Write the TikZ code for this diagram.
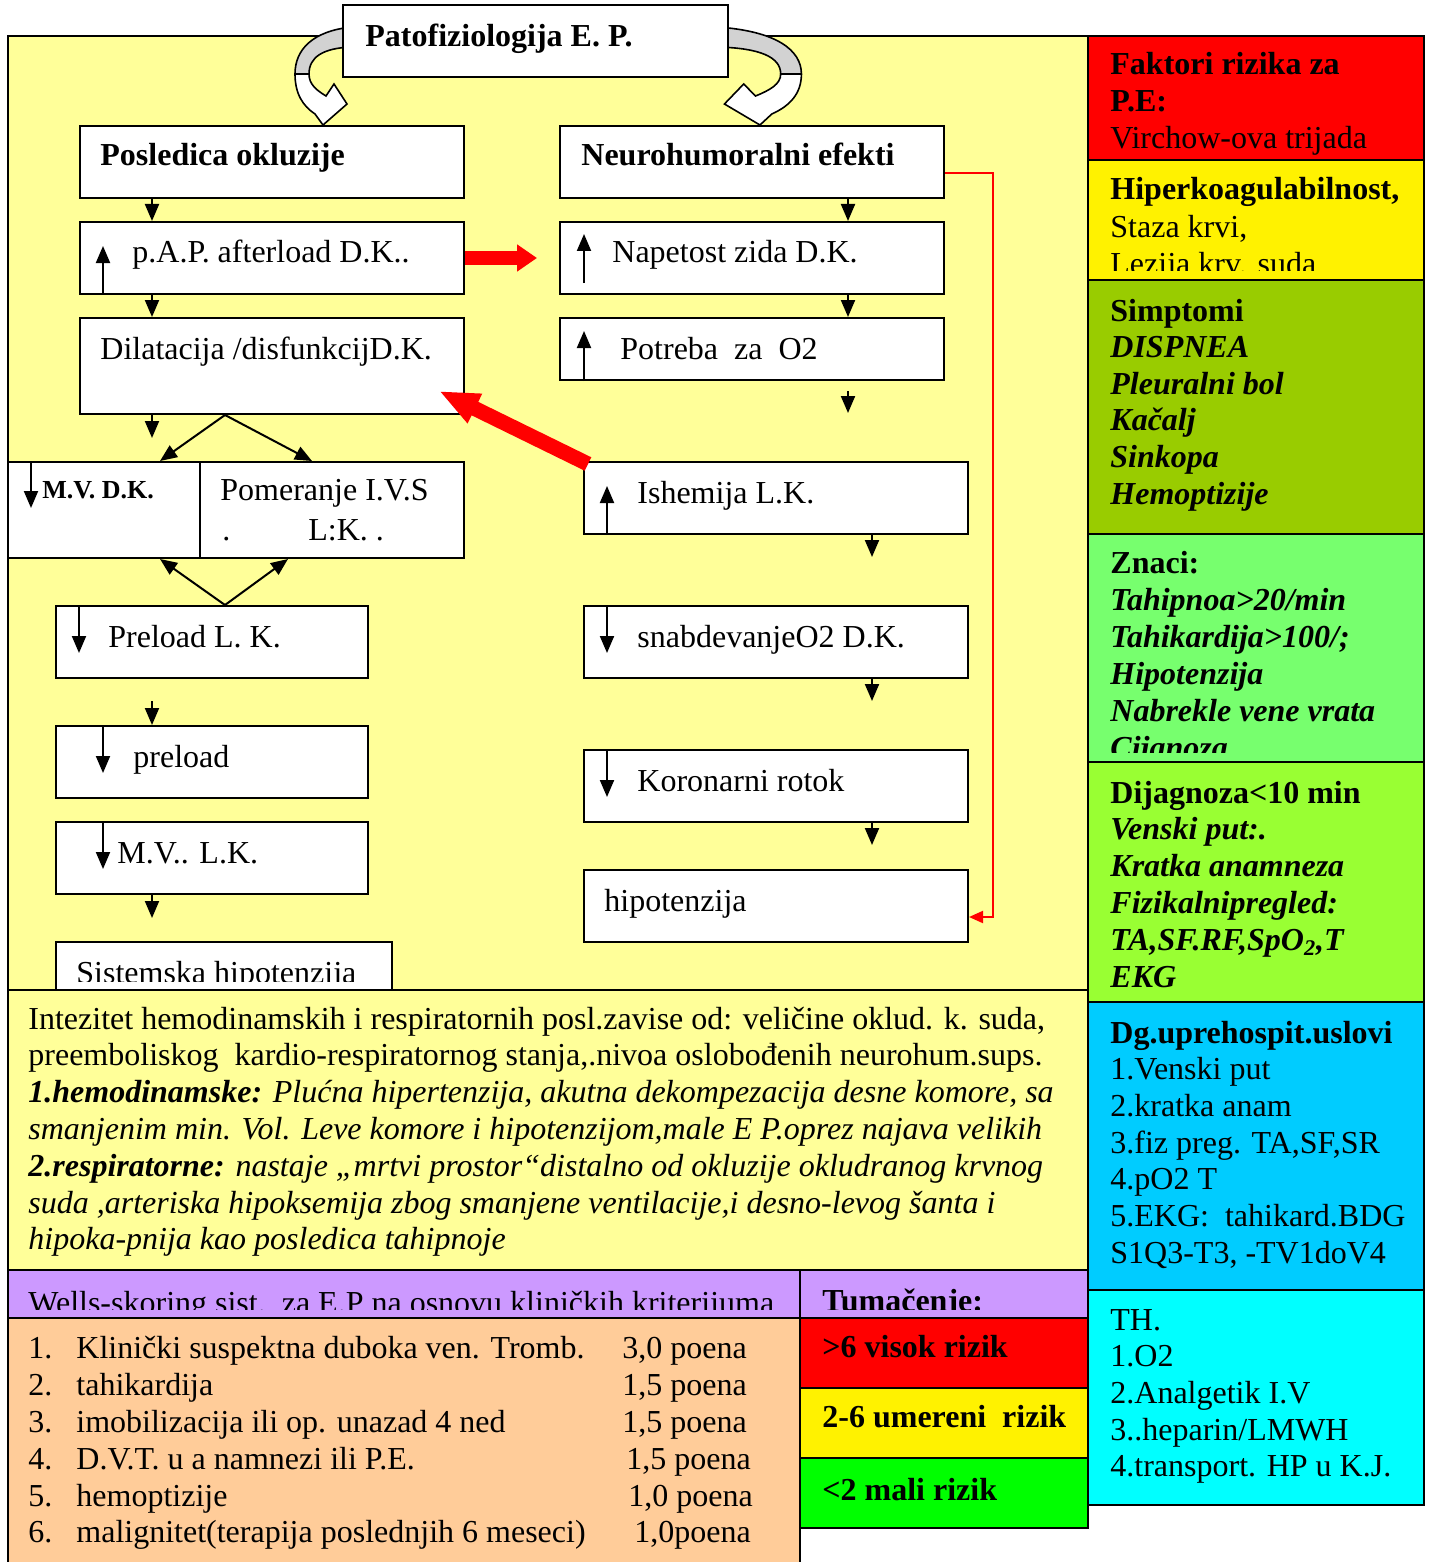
\documentclass[tikz,border=0pt]{standalone}
\usepackage{fontspec}
\setmainfont{Liberation Serif}
\usetikzlibrary{arrows.meta,calc,fit}

\definecolor{fieldyel}{HTML}{FFFF99}
\definecolor{simpgreen}{HTML}{99CC00}
\definecolor{znacigreen}{HTML}{77FF6E}
\definecolor{dglime}{HTML}{99FF33}
\definecolor{dgblue}{HTML}{00CCFF}
\definecolor{thcyan}{HTML}{00FFFF}
\definecolor{wellslila}{HTML}{CC99FF}
\definecolor{wellspeach}{HTML}{FFCC99}
\definecolor{rizgreen}{HTML}{00FF00}

\begin{document}
\begin{tikzpicture}[x=0.5pt, y=-0.5pt,
bx/.style = {% white flow boxes
    draw, line width=1pt, fill=white, inner sep=0pt,
            },
pan/.style = {% coloured panels
    draw, line width=1pt, inner sep=0pt,
            },
tx/.style = {% text in boxes and panels
    inner sep=0pt, anchor=base west,
    font=\fontsize{16}{18.4}\selectfont,
            },
ar/.style = {% small black arrows
    line width=1pt, -{Triangle[length=8.5pt,width=7pt]},
            },
fat/.style = {% thick red arrows
    draw=red, line width=7pt, -{Triangle[length=10pt,width=13pt]},
            },
                        ]
  \useasboundingbox (0,0) rectangle (1430,1562);

  % yellow field
  \fill[fieldyel] (8,36) rectangle (1088,1270);
  \draw[line width=1pt] (8,1562) -- (8,36) -- (1088,36);
  \draw[line width=1pt] (8,990) -- (1088,990);

  \foreach \t [count=\i from 0] in {
      {Intezitet hemodinamskih i respiratornih posl.zavise od: veličine oklud. k. suda,},
      {preemboliskog\ \ kardio-respiratornog stanja,.nivoa oslobođenih neurohum.sups.},
      {\textbf{\textit{1.hemodinamske:}}\textit{ Plućna hipertenzija, akutna dekompezacija desne komore, sa}},
      {\textit{smanjenim min. Vol. Leve komore i hipotenzijom,male E P.oprez najava velikih}},
      {\textbf{\textit{2.respiratorne:}}\textit{ nastaje „mrtvi prostor“distalno od okluzije okludranog krvnog}},
      {\textit{suda ,arteriska hipoksemija zbog smanjene ventilacije,i desno-levog šanta i}},
      {\textit{hipoka-pnija kao posledica tahipnoje}}}
    \node[tx] (intz\i) at (28,1029+36.8*\i) {\t};

  % Wells table
  \fill[wellspeach] (8,1318) rectangle (800,1562);
  \draw[line width=1pt] (8,1562) -- (8,1318) -- (800,1318) -- (800,1562);
  \node[pan, fill=wellslila, fit={(8,1270) (800,1318)}] (wells) {};
  \begin{scope}
    \clip (8,1270) rectangle (800,1309);
    \node[tx] (wellst) at (28,1313) {Wells-skoring sist.\ \ za E.P na osnovu kliničkih kriterijuma};
  \end{scope}
  \foreach \t/\p/\q [count=\i] in {
      {Klinički suspektna duboka ven. Tromb.}/{3,0 poena}/622,
      {tahikardija}/{1,5 poena}/622,
      {imobilizacija ili op. unazad 4 ned}/{1,5 poena}/622,
      {D.V.T. u a namnezi ili P.E.}/{1,5 poena}/626,
      {hemoptizije}/{1,0 poena}/628,
      {malignitet(terapija poslednjih 6 meseci)}/{1,0poena}/634}
  {
    \node[tx] (wn\i) at (28,1322+36.8*\i) {\i.};
    \node[tx] (wt\i) at (76,1322+36.8*\i) {\t};
    \node[tx] (wp\i) at (\q,1322+36.8*\i) {\p};
  }

  \node[pan, fill=wellslila, fit={(800,1270) (1088,1318)}] (tum) {};
  \begin{scope}
    \clip (800,1270) rectangle (1088,1309);
    \node[tx] (tumt) at (822,1311) {\textbf{Tumačenje:}};
  \end{scope}
  \node[pan, fill=red, fit={(800,1318) (1088,1388)}] (viso) {};
  \node[tx] (visot) at (822,1357) {\textbf{>6 visok rizik}};
  \node[pan, fill=yellow, fit={(800,1388) (1088,1458)}] (umer) {};
  \node[tx] (umert) at (822,1427) {\textbf{2-6 umereni\ \ rizik}};
  \node[pan, fill=rizgreen, fit={(800,1458) (1088,1528)}] (mali) {};
  \node[tx] (malit) at (822,1500) {\textbf{<2 mali rizik}};

  % right panels
  \node[pan, fill=red, fit={(1088,36) (1424,160)}] (fakt) {};
  \foreach \t [count=\i from 0] in {{\textbf{Faktori rizika za}}, {\textbf{P.E:}}, {Virchow-ova trijada}}
    \node[tx] (fakt\i) at (1110,75+36.6*\i) {\t};

  \node[pan, fill=yellow, fit={(1088,160) (1424,280)}] (hipk) {};
  \begin{scope}
    \clip (1088,160) rectangle (1424,270);
    \foreach \t [count=\i from 0] in {{\textbf{Hiperkoagulabilnost,}}, {Staza krvi,}, {Lezija krv. suda}}
      \node[tx] (hipk\i) at (1110,200+37*\i) {\t};
  \end{scope}

  \node[pan, fill=simpgreen, fit={(1088,280) (1424,534)}] (simp) {};
  \foreach \t [count=\i from 0] in {{\textbf{Simptomi}}, {\textbf{\textit{DISPNEA}}},
      {\textbf{\textit{Pleuralni bol}}}, {\textbf{\textit{Kačalj}}},
      {\textbf{\textit{Sinkopa}}}, {\textbf{\textit{Hemoptizije}}}}
    \node[tx] (simp\i) at (1110,321+36.6*\i) {\t};

  \node[pan, fill=znacigreen, fit={(1088,534) (1424,762)}] (znac) {};
  \begin{scope}
    \clip (1088,534) rectangle (1424,752);
    \foreach \t [count=\i from 0] in {{\textbf{Znaci:}}, {\textbf{\textit{Tahipnoa>20/min}}},
        {\textbf{\textit{Tahikardija>100/;}}}, {\textbf{\textit{Hipotenzija}}},
        {\textbf{\textit{Nabrekle vene vrata}}}, {\textbf{\textit{Cijanoza}}}}
      \node[tx] (znac\i) at (1110,573+37*\i) {\t};
  \end{scope}

  \node[pan, fill=dglime, fit={(1088,762) (1424,1002)}] (dijg) {};
  \foreach \t [count=\i from 0] in {{\textbf{Dijagnoza<10 min}}, {\textbf{\textit{Venski put:.}}},
      {\textbf{\textit{Kratka anamneza}}}, {\textbf{\textit{Fizikalnipregled:}}},
      {\textbf{\textit{TA,SF.RF,SpO\textsubscript{2},T}}}, {\textbf{\textit{EKG}}}}
    \node[tx] (dijg\i) at (1110,803+36.8*\i) {\t};

  \node[pan, fill=dgblue, fit={(1088,1002) (1424,1290)}] (dgup) {};
  \foreach \t [count=\i from 0] in {{\textbf{Dg.uprehospit.uslovi}}, {1.Venski put}, {2.kratka anam},
      {3.fiz preg. TA,SF,SR}, {4.pO2 T}, {5.EKG:\ \ tahikard.BDG}, {S1Q3-T3, -TV1doV4}}
    \node[tx] (dgup\i) at (1110,1043+36.7*\i) {\t};

  \node[pan, fill=thcyan, fit={(1088,1290) (1424,1505)}] (ther) {};
  \foreach \t [count=\i from 0] in {{TH.}, {1.O2}, {2.Analgetik I.V}, {3..heparin/LMWH},
      {4.transport. HP u K.J.}}
    \node[tx] (ther\i) at (1110,1330+36.7*\i) {\t};

  % curved arrows off the title
  \foreach \s/\k in {0/1, 1238/-1.48}
  {
    \begin{scope}[shift={(\s,0)}, xscale=\k]
      \filldraw[fill=gray!35, line width=0.8pt]
          (352,27) .. controls (312,31) and (295,50) .. (295,74)
          -- (309,74) .. controls (309,57) and (323,48) .. (352,47) -- cycle;
      \filldraw[fill=white, line width=0.8pt]
          (295,74) .. controls (295,94) and (303,106) .. (315,114)
          -- (323,125) -- (347,104) -- (334,84) -- (326,96)
          .. controls (316,90) and (309,84) .. (309,74) -- cycle;
    \end{scope}
  }
  \node[bx, fit={(343,5) (728,77)}] (title) {};
  \node[tx] (titlet) at (365,47) {\textbf{Patofiziologija E. P.}};

  % left column
  \node[bx, fit={(80,126) (464,198)}] (posl) {};
  \node[tx] (poslt) at (100,166) {\textbf{Posledica okluzije}};
  \node[bx, fit={(80,222) (464,294)}] (pap) {};
  \node[tx] (papt) at (132,263) {p.A.P. afterload D.K..};
  \node[bx, fit={(80,318) (464,414)}] (dil) {};
  \node[tx] (dilt) at (100,359) {Dilatacija /disfunkcijD.K.};
  \node[bx, fit={(8,462) (200,558)}] (mvd) {};
  \node[tx, font=\fontsize{13}{15}\selectfont\bfseries] (mvdt) at (42,498) {M.V. D.K.};
  \node[bx, fit={(200,462) (464,558)}] (pom) {};
  \node[tx] (pomt) at (220,500) {Pomeranje I.V.S};
  \node[tx] (pomt2) at (222,540) {.\hspace{39pt}L:K. .};
  \node[bx, fit={(56,606) (368,678)}] (plk) {};
  \node[tx] (plkt) at (108,647) {Preload L. K.};
  \node[bx, fit={(56,726) (368,798)}] (pre) {};
  \node[tx] (pret) at (133,767) {preload};
  \node[bx, fit={(56,822) (368,894)}] (mvl) {};
  \node[tx] (mvlt) at (117,863) {M.V.. L.K.};
  \node[bx, fit={(56,942) (392,990)}] (sis) {};
  \begin{scope}
    \clip (56,942) rectangle (392,981);
    \node[tx] (sist) at (76,983) {Sistemska hipotenzija};
  \end{scope}

  % right column
  \node[bx, fit={(560,126) (944,198)}] (neuro) {};
  \node[tx] (neurot) at (581,166) {\textbf{Neurohumoralni efekti}};
  \node[bx, fit={(560,222) (944,294)}] (nap) {};
  \node[tx] (napt) at (612,263) {Napetost zida D.K.};
  \node[bx, fit={(560,318) (944,380)}] (pot) {};
  \node[tx] (pott) at (620,359) {Potreba\ \ za\ \ O2};
  \node[bx, fit={(584,462) (968,534)}] (ish) {};
  \node[tx] (isht) at (637,503) {Ishemija L.K.};
  \node[bx, fit={(584,606) (968,678)}] (snab) {};
  \node[tx] (snabt) at (637,647) {snabdevanjeO2 D.K.};
  \node[bx, fit={(584,750) (968,822)}] (kor) {};
  \node[tx] (kort) at (637,791) {Koronarni rotok};
  \node[bx, fit={(584,870) (968,942)}] (hipo) {};
  \node[tx] (hipot) at (604,911) {hipotenzija};

  \coordinate (cl) at (152,0);
  \coordinate (cr) at (848,0);
  \coordinate (cq) at (872,0);
  \coordinate (dx) at (225,0);

  % arrows between the boxes
  \draw[ar] (posl.south -| cl) -- (pap.north -| cl);
  \draw[ar] (pap.south -| cl) -- (dil.north -| cl);
  \draw[ar] (dil.south -| cl) -- ++(0,23);
  \draw[ar] (dil.south -| dx) -- ($(mvd.north)+(56,0)$);
  \draw[ar] (dil.south -| dx) -- ($(pom.north)+(-20,0)$);
  \draw[ar] (plk.north -| dx) -- ($(mvd.south)+(56,0)$);
  \draw[ar] (plk.north -| dx) -- ($(pom.south)+(-44,0)$);
  \draw[ar] ($(pre.north -| cl)+(0,-24)$) -- (pre.north -| cl);
  \draw[ar] (mvl.south -| cl) -- ++(0,23);
  \draw[ar] (neuro.south -| cr) -- (nap.north -| cr);
  \draw[ar] (nap.south -| cr) -- (pot.north -| cr);
  \draw[ar] ($(pot.south -| cr)+(0,10)$) -- ++(0,22);
  \draw[ar] (ish.south -| cq) -- ++(0,22);
  \draw[ar] (snab.south -| cq) -- ++(0,22);
  \draw[ar] (kor.south -| cq) -- ++(0,22);

  % up and down marks inside the boxes
  \draw[ar] ($(pap.south west)+(24,-2)$) -- ++(0,-47);
  \draw[ar] ($(nap.south west)+(25,-12)$) -- ++(0,-49);
  \draw[ar] ($(pot.south west)+(25,0)$) -- ++(0,-50);
  \draw[ar] ($(mvd.north west)+(24,0)$) -- ++(0,47);
  \draw[ar] ($(ish.south west)+(24,0)$) -- ++(0,-49);
  \draw[ar] ($(plk.north west)+(24,0)$) -- ++(0,48);
  \draw[ar] ($(snab.north west)+(24,0)$) -- ++(0,48);
  \draw[ar] ($(pre.north west)+(48,0)$) -- ++(0,48);
  \draw[ar] ($(kor.north west)+(24,0)$) -- ++(0,48);
  \draw[ar] ($(mvl.north west)+(48,0)$) -- ++(0,48);

  % red arrows
  \draw[fat] (pap.east) -- ($(nap.west)+(-22,0)$);
  \draw[fat, line width=7.5pt, -{Triangle[length=20pt,width=15pt]}]
      ($(ish.north west)+(5,3)$) -- ($(dil.south east)+(-26,-24)$);
  \draw[red, line width=1pt, -{Triangle[length=7pt,width=6pt]}]
      ($(neuro.east)+(0,11)$) -- ++(48,0) |- ($(hipo.east)+(0,11)$);

\end{tikzpicture}
\end{document}
